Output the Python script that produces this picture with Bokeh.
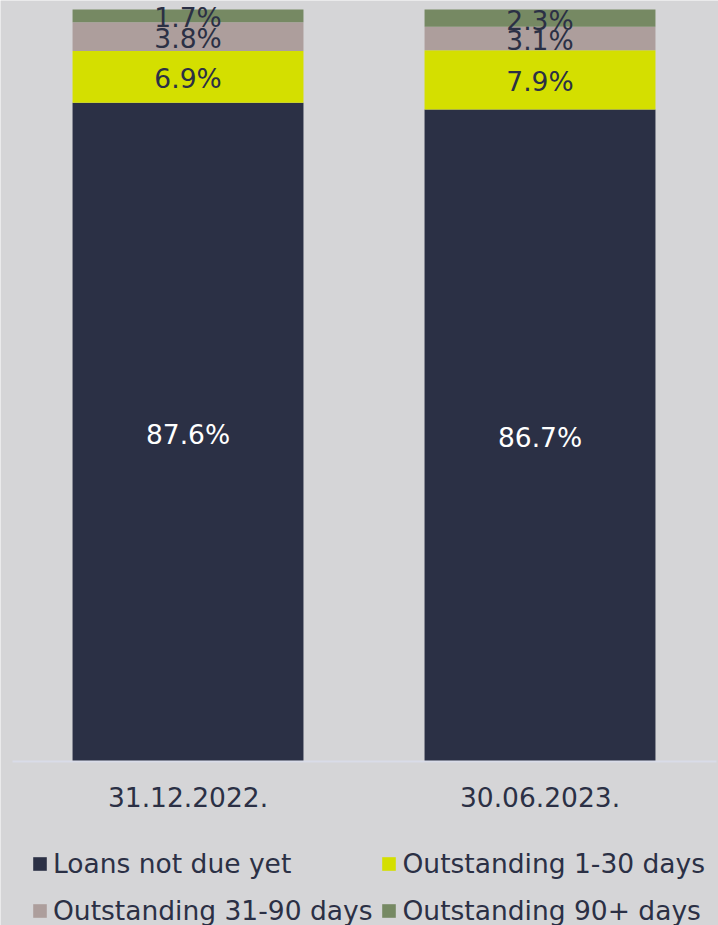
from bokeh.plotting import figure
from bokeh.models import ColumnDataSource, Range1d, Legend, LegendItem, FixedTicker
from bokeh.embed import file_html
from bokeh.resources import INLINE
from bokeh.core.properties import value

categories = ["31.12.2022.", "30.06.2023."]
series_names = ["Loans not due yet", "Outstanding 1-30 days",
                "Outstanding 31-90 days", "Outstanding 90+ days"]
not_due = [87.6, 86.7]
days_1_30 = [6.9, 7.9]
days_31_90 = [3.8, 3.1]
days_90_plus = [1.7, 2.3]

colors = ["#2b3045", "#d4df00", "#ad9e9c", "#768963"]
label_colors = ["#ffffff", "#2b3045", "#2b3045", "#2b3045"]
FONT = "DejaVu Sans"
BG = "#d5d5d7"
TXT = "#2b3045"

keys = ["not_due", "d1_30", "d31_90", "d90"]
series = [not_due, days_1_30, days_31_90, days_90_plus]
xpos = list(range(len(categories)))
src = ColumnDataSource(dict(x=xpos, **{k: v for k, v in zip(keys, series)}))

p = figure(x_range=Range1d(-0.5327, 1.5071), y_range=Range1d(-21.81, 101.2),
           width=718, height=925, output_backend="svg", toolbar_location=None,
           min_border_left=0, min_border_right=0, min_border_top=0,
           min_border_bottom=0)
p.background_fill_color = BG
p.border_fill_color = BG
p.outline_line_color = None
p.xgrid.visible = False
p.ygrid.visible = False
p.yaxis.visible = False

rs = p.vbar_stack(keys, x="x", width=0.656, source=src, color=colors,
                  line_color=None)

# segment labels
lx, ly, lt, lc = [], [], [], []
for i in xpos:
    base = 0.0
    for s, col in zip(series, label_colors):
        lx.append(i)
        ly.append(base + s[i] / 2)
        lt.append(f"{s[i]:.1f}%")
        lc.append(col)
        base += s[i]
p.text(x="x", y="y", text="t", text_color="c",
       source=ColumnDataSource(dict(x=lx, y=ly, t=lt, c=lc)),
       text_align="center", text_baseline="middle", y_offset=2,
       text_font=value(FONT), text_font_size="26.5px")

ax = p.xaxis[0]
ax.fixed_location = 0
ax.bounds = (-0.5, 1.5)
ax.ticker = FixedTicker(ticks=xpos)
ax.major_label_overrides = {i: c for i, c in zip(xpos, categories)}
ax.axis_line_color = "#d9dce8"
ax.axis_line_width = 2
ax.major_tick_line_color = None
ax.minor_tick_line_color = None
ax.major_label_standoff = 20
ax.major_label_text_font = FONT
ax.major_label_text_font_size = "26.5px"
ax.major_label_text_color = TXT

legend = Legend(items=[LegendItem(label=n, renderers=[r]) for n, r in zip(series_names, rs)],
                orientation="horizontal", ncols=2, location=(31, -5),
                padding=0, margin=0, spacing=8, label_standoff=5,
                glyph_width=17, glyph_height=17, label_height=39,
                border_line_color=None, background_fill_alpha=0,
                label_text_font=FONT, label_text_font_size="26.5px",
                label_text_color=TXT)
p.add_layout(legend, "center")

open("out.html", "w").write(file_html(p, INLINE))
